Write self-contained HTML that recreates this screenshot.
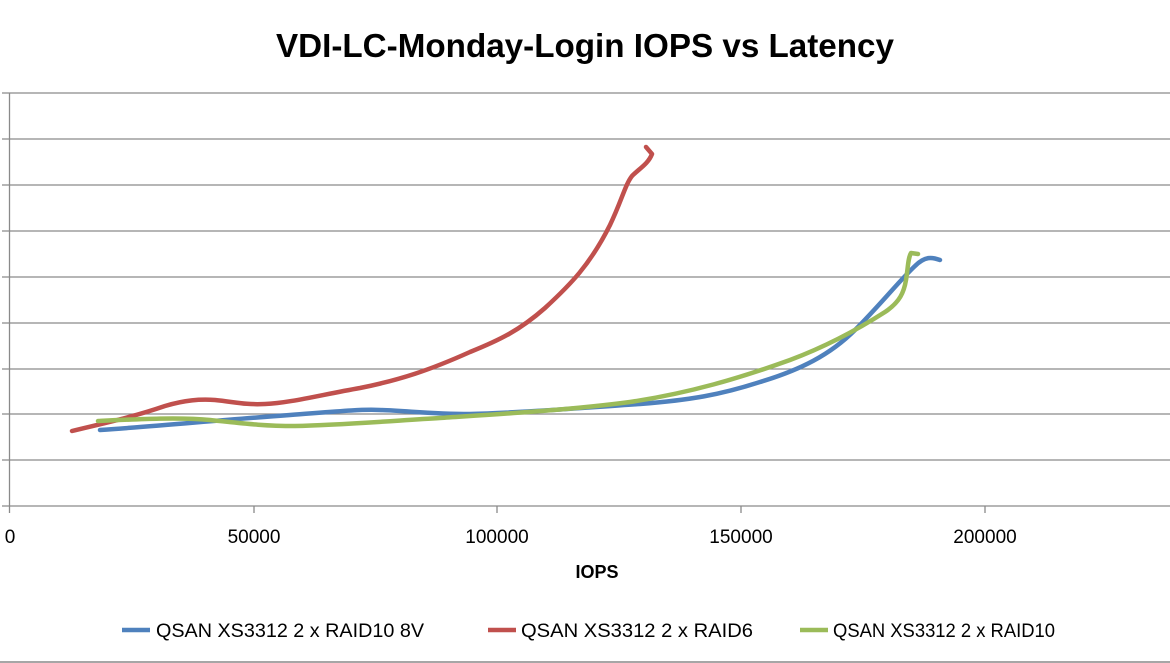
<!DOCTYPE html>
<html><head><style>
body{margin:0;background:#fff;}
svg{display:block;font-family:"Liberation Sans",sans-serif;}
</style></head><body>
<svg width="1170" height="663" viewBox="0 0 1170 663">
<rect x="0" y="0" width="1170" height="663" fill="#fff"/>
<line x1="0" y1="662" x2="1170" y2="662" stroke="#888" stroke-width="1.5"/>
<text x="585" y="57" text-anchor="middle" font-size="33" font-weight="bold" fill="#000" textLength="618" lengthAdjust="spacingAndGlyphs">VDI-LC-Monday-Login IOPS vs Latency</text>
<g stroke="#8a8a8a" stroke-width="1.3">
<line x1="2" y1="93" x2="1170" y2="93"/>
<line x1="2" y1="139" x2="1170" y2="139"/>
<line x1="2" y1="185" x2="1170" y2="185"/>
<line x1="2" y1="231" x2="1170" y2="231"/>
<line x1="2" y1="277" x2="1170" y2="277"/>
<line x1="2" y1="323" x2="1170" y2="323"/>
<line x1="2" y1="369" x2="1170" y2="369"/>
<line x1="2" y1="414" x2="1170" y2="414"/>
<line x1="2" y1="460" x2="1170" y2="460"/>
<line x1="2" y1="506" x2="1170" y2="506"/>
<line x1="9.5" y1="93" x2="9.5" y2="513"/>
<line x1="254" y1="506" x2="254" y2="513"/>
<line x1="497" y1="506" x2="497" y2="513"/>
<line x1="741" y1="506" x2="741" y2="513"/>
<line x1="985" y1="506" x2="985" y2="513"/>
</g>
<g font-size="19" fill="#000" text-anchor="middle">
<text x="10" y="543">0</text>
<text x="254" y="543">50000</text>
<text x="497" y="543">100000</text>
<text x="741" y="543">150000</text>
<text x="985" y="543">200000</text>
<text x="597" y="578" font-weight="bold" font-size="18">IOPS</text>
</g>
<g fill="none" stroke-width="4.5" stroke-linecap="round" stroke-linejoin="round">
<path stroke="#c0504d" d="M72,431 C100,424 130,418 165,406 C185,400 200,399 215,400 C235,402 245,405 265,404 C290,403 320,395 360,388 C400,380 430,370 470,352 C500,340 520,330 545,308 C570,285 590,265 610,225 C622,200 625,185 632,176 C640,168 648,164 652,154 L646,147"/>
<path stroke="#4f81bd" d="M100,430 C160,426 220,420 290,415 C330,412 360,409 380,410 C410,411 430,414 470,414 C520,413 580,408 640,404 C690,400 720,395 760,382 C800,370 830,355 855,330 C880,305 900,280 915,266 C925,256 932,257 940,260"/>
<path stroke="#9bbb59" d="M98,421 C140,419 180,417 210,420 C240,423 260,426 295,426 C340,425 390,421 440,418 C500,414 570,410 630,402 C690,393 740,378 790,360 C830,345 860,328 885,312 C900,302 904,292 906,280 C908,268 908,258 911,253 L918,254"/>
</g>
<g font-size="19" fill="#000">
<line x1="122" y1="630" x2="150" y2="630" stroke="#4f81bd" stroke-width="4.5"/>
<text x="156" y="637" textLength="268" lengthAdjust="spacingAndGlyphs">QSAN XS3312 2 x RAID10 8V</text>
<line x1="488" y1="630" x2="516" y2="630" stroke="#c0504d" stroke-width="4.5"/>
<text x="521" y="637" textLength="232" lengthAdjust="spacingAndGlyphs">QSAN XS3312 2 x RAID6</text>
<line x1="800" y1="630" x2="828" y2="630" stroke="#9bbb59" stroke-width="4.5"/>
<text x="833" y="637" textLength="222" lengthAdjust="spacingAndGlyphs">QSAN XS3312 2 x RAID10</text>
</g>
</svg>
</body></html>
